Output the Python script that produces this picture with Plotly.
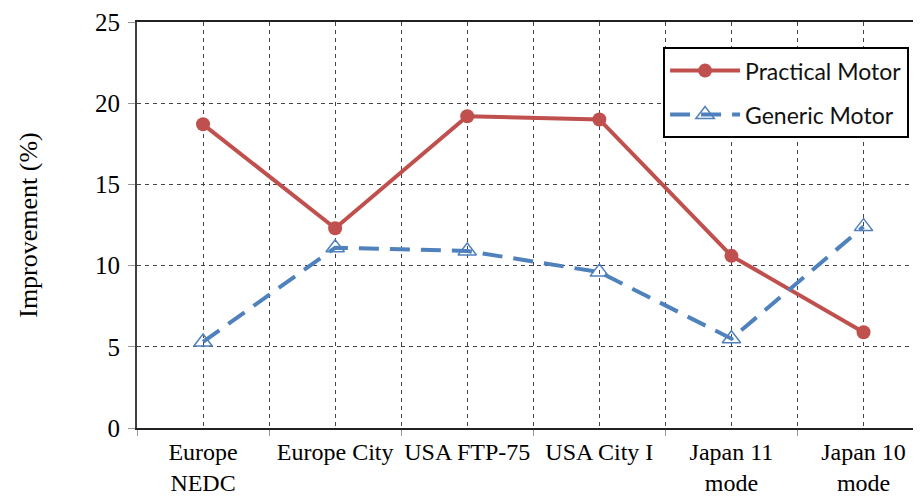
import plotly.graph_objects as go

categories = ["Europe<br>NEDC", "Europe City", "USA FTP-75", "USA City I", "Japan 11<br>mode", "Japan 10<br>mode"]
practical = [18.7, 12.3, 19.2, 19.0, 10.6, 5.9]
generic = [5.3, 11.1, 10.9, 9.6, 5.5, 12.4]
y_ticks = [0, 5, 10, 15, 20, 25]

xpos = list(range(len(categories)))

serif = "Liberation Serif, Times New Roman, serif"

fig = go.Figure()
fig.add_trace(go.Scatter(
    x=xpos, y=practical, name="Practical Motor", mode="lines+markers",
    legendgroup="a",
    line=dict(color="#C0504D", width=4),
    marker=dict(symbol="circle", size=14, color="#C0504D"),
))
fig.add_trace(go.Scatter(
    x=xpos, y=generic, name="Generic Motor", mode="lines+markers",
    legendgroup="b",
    line=dict(color="#4F81BD", width=4, dash="20px,11px"),
    marker=dict(symbol="triangle-up-open", size=16, color="#4F81BD", line=dict(width=1.5)),
))

grid_color = "#444444"
fig.update_layout(
    width=913, height=491,
    margin=dict(l=129, r=0, t=14, b=71),
    plot_bgcolor="white", paper_bgcolor="white",
    showlegend=True,
    legend=dict(
        x=0.671, y=0.938, xanchor="left", yanchor="top",
        bgcolor="white", bordercolor="black", borderwidth=2,
        font=dict(family="Lato, Noto Sans, sans-serif", size=23, color="#111111"),
        itemwidth=70, tracegroupgap=11, traceorder="grouped",
    ),
    xaxis=dict(
        range=[-0.5, 5.435],
        tickvals=xpos, ticktext=categories,
        ticks="", showgrid=True, gridcolor=grid_color, griddash="4px,4px", gridwidth=1,
        minor=dict(tick0=0.5, dtick=1, showgrid=True, gridcolor=grid_color, griddash="4px,4px",
                   gridwidth=1, ticks="outside", ticklen=6, tickcolor="#999999", tickwidth=1),
        showline=True, linecolor="#222222", linewidth=2, mirror=True,
        tickfont=dict(family=serif, size=24, color="black"),
        ticklabelstandoff=1,
        zeroline=False, automargin=False,
    ),
    yaxis=dict(
        range=[0, 25], tickvals=y_ticks,
        ticks="outside", ticklen=7, tickcolor="#999999", tickwidth=1,
        showgrid=True, gridcolor=grid_color, griddash="4px,4px", gridwidth=1,
        showline=True, linecolor="#404040", linewidth=2,
        tickfont=dict(family=serif, size=25, color="black"),
        ticklabelstandoff=3,
        title=dict(text="Improvement (%)", font=dict(family=serif, size=26, color="black"), standoff=50),
        zeroline=False, automargin=False,
    ),
)

fig.write_html("out.html")
